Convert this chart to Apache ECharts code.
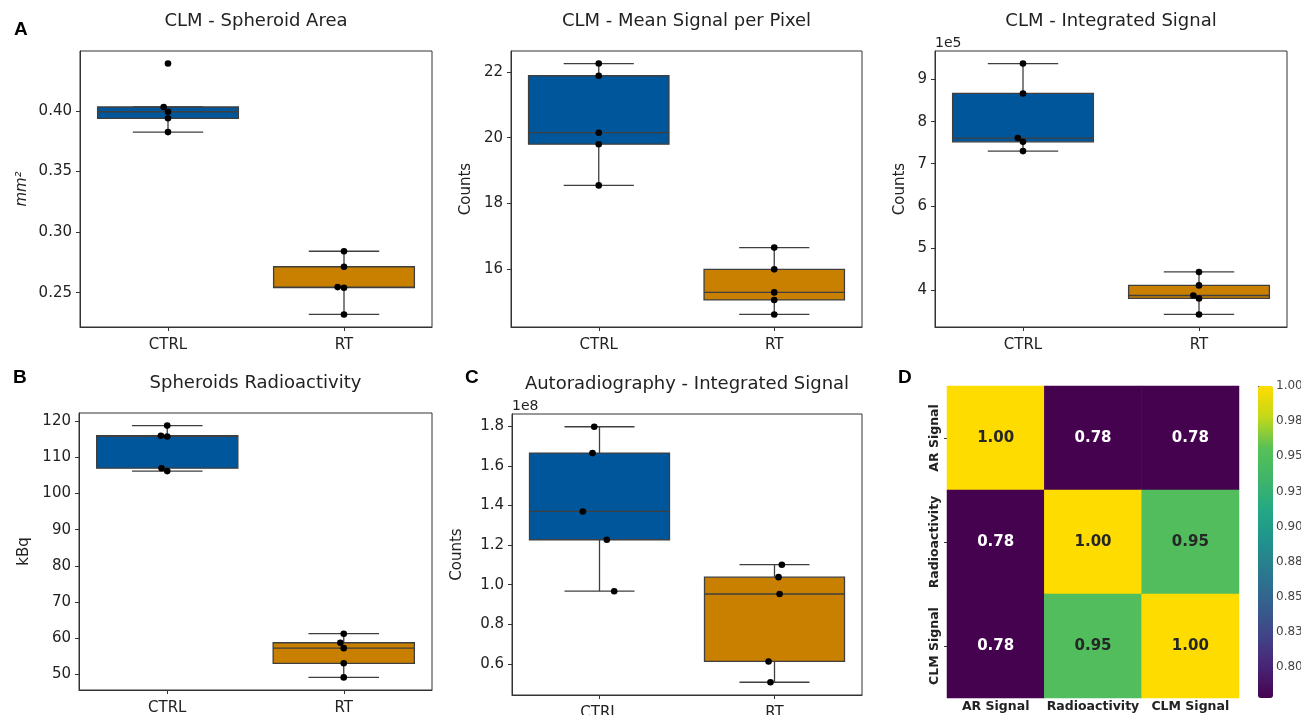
<!DOCTYPE html>
<html>
<head>
<meta charset="utf-8">
<script src="https://cdn.jsdelivr.net/npm/echarts@6/dist/echarts.min.js"></script>
<style>
html,body{margin:0;padding:0;background:#fff;}
#chart{width:1301px;height:715px;}
</style>
</head>
<body>
<div id="chart"></div>
<script>
// ---------------- DATA ----------------
const categories = ['CTRL', 'RT'];

// A: CLM - Spheroid Area (mm²)
const areaCTRL = [0.4392, 0.4033, 0.3994, 0.3940, 0.3826];
const areaRT   = [0.2842, 0.2714, 0.2546, 0.2541, 0.2320];
// A: CLM - Mean Signal per Pixel (Counts)
const meanCTRL = [22.25, 21.88, 20.15, 19.80, 18.55];
const meanRT   = [16.66, 16.00, 15.30, 15.07, 14.63];
// A: CLM - Integrated Signal (Counts)
const intCTRL = [9.38e5, 8.67e5, 7.61e5, 7.52e5, 7.30e5];
const intRT   = [4.43e5, 4.11e5, 3.87e5, 3.80e5, 3.42e5];
// B: Spheroids Radioactivity (kBq)
const radioCTRL = [118.8, 116.0, 115.8, 107.0, 106.2];
const radioRT   = [61.2, 58.7, 57.2, 53.0, 49.1];
// C: Autoradiography - Integrated Signal (Counts)
const arCTRL = [1.798e8, 1.665e8, 1.370e8, 1.227e8, 0.967e8];
const arRT   = [1.101e8, 1.038e8, 0.953e8, 0.612e8, 0.507e8];
// C: strip-plot jitter (fraction of category width)
const arJitterCTRL = [-0.030, -0.040, -0.095, 0.042, 0.084];
const arJitterRT   = [0.042, 0.023, 0.029, -0.034, -0.023];

// tick values
const areaTicks  = [0.25, 0.30, 0.35, 0.40];
const meanTicks  = [16, 18, 20, 22];
const intTicks   = [4e5, 5e5, 6e5, 7e5, 8e5, 9e5];
const radioTicks = [50, 60, 70, 80, 90, 100, 110, 120];
const arTicks    = [0.6e8, 0.8e8, 1.0e8, 1.2e8, 1.4e8, 1.6e8, 1.8e8];

// D: correlation heatmap
const corrLabels = ['AR Signal', 'Radioactivity', 'CLM Signal'];
const corrAR    = [1.00, 0.778, 0.778];
const corrRadio = [0.778, 1.00, 0.95];
const corrCLM   = [0.778, 0.95, 1.00];
const colorbarTicks = [0.800, 0.825, 0.850, 0.875, 0.900, 0.925, 0.950, 0.975, 1.000];
const colorbarTickLabels = ['0.80', '0.83', '0.85', '0.88', '0.90', '0.93', '0.95', '0.98', '1.00'];

// ---------------- STYLE / LAYOUT ----------------
const FONT = 'DejaVu Sans';
const TXT = '#222';
const EDGE = '#3f3f3f';
const BOX_COLORS = ['#00569a', '#c98001'];
const VIRIDIS = ['#45034f', '#482475', '#414487', '#355f8d', '#2a788e', '#21918c', '#22a884', '#3fb56a', '#57c058', '#c2d81a', '#ffdc00'];

const panels = [
  { title: 'CLM - Spheroid Area', yName: 'mm²', italic: true, series: [areaCTRL, areaRT], ticks: areaTicks,
    fmt: v => v.toFixed(2), grid: { left: 80, top: 51, width: 352, height: 276 }, nameX: 22, mode: 'swarm' },
  { title: 'CLM - Mean Signal per Pixel', yName: 'Counts', series: [meanCTRL, meanRT], ticks: meanTicks,
    fmt: v => String(Math.round(v)), grid: { left: 511, top: 51, width: 351, height: 276 }, nameX: 466, mode: 'swarm' },
  { title: 'CLM - Integrated Signal', yName: 'Counts', series: [intCTRL, intRT], ticks: intTicks,
    fmt: v => String(Math.round(v / 1e5)), grid: { left: 935, top: 51, width: 352, height: 276 }, nameX: 900, mode: 'swarm', offsetText: '1e5' },
  { title: 'Spheroids Radioactivity', yName: 'kBq', series: [radioCTRL, radioRT], ticks: radioTicks,
    fmt: v => String(Math.round(v)), grid: { left: 79, top: 413, width: 353, height: 277 }, nameX: 24, mode: 'swarm' },
  { title: 'Autoradiography - Integrated Signal', yName: 'Counts', series: [arCTRL, arRT], ticks: arTicks,
    fmt: v => (v / 1e8).toFixed(1), grid: { left: 512, top: 414, width: 350, height: 281 }, nameX: 457, mode: 'jitter',
    jitter: [arJitterCTRL, arJitterRT], offsetText: '1e8' }
];

const heatGrid = { left: 947, top: 386, width: 292, height: 312 };
const cbarGrid = { left: 1258, top: 386, width: 15, height: 312 };

// ---------------- HELPERS ----------------
function quantile(s, p) {
  const h = (s.length - 1) * p, lo = Math.floor(h), hi = Math.ceil(h);
  return s[lo] + (s[hi] - s[lo]) * (h - lo);
}
function boxStats(vals) {
  const s = [...vals].sort((a, b) => a - b);
  const q1 = quantile(s, 0.25), med = quantile(s, 0.5), q3 = quantile(s, 0.75);
  const iqr = q3 - q1;
  const wlo = s.find(v => v >= q1 - 1.5 * iqr);
  const whi = [...s].reverse().find(v => v <= q3 + 1.5 * iqr);
  return [wlo, q1, med, q3, whi];
}
function swarmOffsets(ys, d) {
  const order = ys.map((y, i) => i).sort((a, b) => ys[b] - ys[a]);
  const placed = [], off = new Array(ys.length).fill(0);
  for (const i of order) {
    const cands = [0];
    for (const p of placed) {
      const dy = ys[i] - p.y;
      if (Math.abs(dy) < d) { const dx = Math.sqrt(d * d - dy * dy); cands.push(p.x - dx, p.x + dx); }
    }
    cands.sort((a, b) => (Math.abs(a) - Math.abs(b)) || (a - b));
    let chosen = cands[0];
    for (const c of cands) {
      if (placed.every(p => Math.hypot(p.x - c, p.y - ys[i]) >= d - 1e-6)) { chosen = c; break; }
    }
    off[i] = chosen;
    placed.push({ x: chosen, y: ys[i] });
  }
  return off;
}

// ---------------- BUILD OPTION ----------------
const grids = [], xAxes = [], yAxes = [], series = [], graphics = [];
const GRID_BASE = { outerBoundsMode: 'none', containLabel: false };

panels.forEach((p, i) => {
  grids.push(Object.assign({ show: true, borderColor: '#333', borderWidth: 1, backgroundColor: 'transparent' }, GRID_BASE, p.grid));
  const all = [].concat(...p.series);
  const lo = Math.min(...all), hi = Math.max(...all), pad = (hi - lo) * 0.05;
  xAxes.push({
    type: 'category', gridIndex: i, data: categories,
    axisLine: { show: true, lineStyle: { color: '#333', width: 1 } },
    axisTick: { show: true, alignWithLabel: true, length: 4, lineStyle: { color: '#333' } },
    axisLabel: { fontSize: 15, color: TXT, fontFamily: FONT, margin: 11 },
    splitLine: { show: false }
  });
  yAxes.push({
    type: 'value', gridIndex: i, min: lo - pad, max: hi + pad,
    axisLine: { show: true, lineStyle: { color: '#333', width: 1 } },
    axisTick: { show: true, length: 4, customValues: p.ticks, lineStyle: { color: '#333' } },
    axisLabel: { customValues: p.ticks, formatter: p.fmt, fontSize: 15, color: TXT, fontFamily: FONT, margin: 8 },
    splitLine: { show: false }
  });

  // box + whiskers
  series.push({
    type: 'custom', xAxisIndex: i, yAxisIndex: i, silent: true, z: 2,
    data: p.series.map((vals, c) => [c].concat(boxStats(vals))),
    encode: { x: 0, y: [1, 2, 3, 4, 5] },
    renderItem: (params, api) => {
      const cat = api.value(0);
      const band = api.size([1, 0])[0];
      const w = band * 0.8, cw = w * 0.5;
      const x = api.coord([cat, api.value(3)])[0];
      const ylo = api.coord([cat, api.value(1)])[1];
      const yq1 = api.coord([cat, api.value(2)])[1];
      const ymed = api.coord([cat, api.value(3)])[1];
      const yq3 = api.coord([cat, api.value(4)])[1];
      const yhi = api.coord([cat, api.value(5)])[1];
      const ls = { stroke: EDGE, lineWidth: 1.3 };
      return {
        type: 'group', children: [
          { type: 'line', shape: { x1: x, y1: yq1, x2: x, y2: ylo }, style: ls },
          { type: 'line', shape: { x1: x, y1: yq3, x2: x, y2: yhi }, style: ls },
          { type: 'line', shape: { x1: x - cw / 2, y1: ylo, x2: x + cw / 2, y2: ylo }, style: ls },
          { type: 'line', shape: { x1: x - cw / 2, y1: yhi, x2: x + cw / 2, y2: yhi }, style: ls },
          { type: 'rect', shape: { x: x - w / 2, y: yq3, width: w, height: yq1 - yq3 },
            style: { fill: BOX_COLORS[params.dataIndex], stroke: EDGE, lineWidth: 1.3 } },
          { type: 'line', shape: { x1: x - w / 2, y1: ymed, x2: x + w / 2, y2: ymed }, style: ls }
        ]
      };
    }
  });

  // points
  const pts = [];
  p.series.forEach((vals, c) => vals.forEach((v, k) => pts.push([c, v, k])));
  series.push({
    type: 'custom', xAxisIndex: i, yAxisIndex: i, silent: true, z: 3,
    data: pts, encode: { x: 0, y: 1 },
    renderItem: (params, api) => {
      const cat = api.value(0), v = api.value(1), k = api.value(2);
      const c = api.coord([cat, v]);
      let off = 0;
      if (p.mode === 'jitter') {
        off = p.jitter[cat][k] * api.size([1, 0])[0];
      } else {
        const ys = p.series[cat].map(vv => api.coord([cat, vv])[1]);
        off = swarmOffsets(ys, 6.4)[k];
      }
      return { type: 'circle', shape: { cx: c[0] + off, cy: c[1], r: 3.3 }, style: { fill: '#000' } };
    }
  });

  // title
  graphics.push({ type: 'text', x: p.grid.left + p.grid.width / 2, y: p.grid.top - 30,
    style: { text: p.title, font: '18px "DejaVu Sans"', fill: TXT, textAlign: 'center', textVerticalAlign: 'middle' } });
  // y name
  graphics.push({ type: 'text', x: p.nameX, y: p.grid.top + p.grid.height / 2, rotation: Math.PI / 2,
    style: { text: p.yName, font: (p.italic ? 'italic ' : '') + '15px "DejaVu Sans"', fill: TXT, textAlign: 'center', textVerticalAlign: 'middle' } });
  if (p.offsetText) {
    graphics.push({ type: 'text', x: p.grid.left, y: p.grid.top - 8,
      style: { text: p.offsetText, font: '14px "DejaVu Sans"', fill: TXT, textAlign: 'left', textVerticalAlign: 'middle' } });
  }
});

// ---- heatmap ----
const HI = panels.length;
grids.push(Object.assign({ show: false }, GRID_BASE, heatGrid));
xAxes.push({
  type: 'category', gridIndex: HI, data: corrLabels, position: 'bottom',
  axisLine: { show: false }, axisTick: { show: false }, splitLine: { show: false },
  axisLabel: { fontSize: 12.5, fontWeight: 'bold', color: TXT, fontFamily: FONT, margin: 2, interval: 0 }
});
yAxes.push({
  type: 'category', gridIndex: HI, data: corrLabels, inverse: true,
  axisLine: { show: false }, axisTick: { show: true, length: 3, alignWithLabel: true, lineStyle: { color: '#333' } },
  splitLine: { show: false },
  axisLabel: { fontSize: 12.5, fontWeight: 'bold', color: TXT, fontFamily: FONT, margin: 6, rotate: 90, interval: 0 }
});
const corrRows = [corrAR, corrRadio, corrCLM];
const heatData = [];
corrRows.forEach((row, r) => row.forEach((v, c) => {
  heatData.push({ value: [c, r, v], label: { color: v > 0.9 ? '#262626' : '#ffffff' } });
}));
const allCorr = [].concat(...corrRows);
const cMin = Math.min(...allCorr), cMax = Math.max(...allCorr);
const heatSeriesIndex = series.length;
series.push({
  type: 'heatmap', xAxisIndex: HI, yAxisIndex: HI, data: heatData, silent: true,
  label: { show: true, formatter: prm => prm.value[2].toFixed(2), fontSize: 15, fontWeight: 'bold', fontFamily: FONT },
  itemStyle: { borderWidth: 0 }
});

// ---- colorbar axis ----
const CI = HI + 1;
grids.push(Object.assign({ show: false }, GRID_BASE, cbarGrid));
xAxes.push({ type: 'value', gridIndex: CI, show: false, min: 0, max: 1 });
yAxes.push({
  type: 'value', gridIndex: CI, min: cMin, max: cMax, position: 'right',
  axisLine: { show: false }, splitLine: { show: false },
  axisTick: { show: true, length: 3, customValues: colorbarTicks, lineStyle: { color: '#444' } },
  axisLabel: {
    customValues: colorbarTicks, fontSize: 12, color: '#444', fontFamily: FONT, margin: 3,
    formatter: v => {
      let best = 0;
      colorbarTicks.forEach((t, j) => { if (Math.abs(t - v) < Math.abs(colorbarTicks[best] - v)) best = j; });
      return colorbarTickLabels[best];
    }
  }
});

// panel letters
[['A', 14, 30], ['B', 13, 378], ['C', 465, 378], ['D', 898, 378]].forEach(([t, x, y]) => {
  graphics.push({ type: 'text', x: x, y: y,
    style: { text: t, font: 'bold 19px "Liberation Sans", Arial, sans-serif', fill: '#000', textAlign: 'left', textVerticalAlign: 'middle' } });
});

const option = {
  backgroundColor: '#ffffff',
  animation: false,
  grid: grids,
  xAxis: xAxes,
  yAxis: yAxes,
  visualMap: {
    type: 'continuous', seriesIndex: heatSeriesIndex, min: cMin, max: cMax,
    left: cbarGrid.left, top: cbarGrid.top, itemWidth: cbarGrid.width, itemHeight: cbarGrid.height,
    orient: 'vertical', calculable: false, hoverLink: false, padding: 0, text: null, showLabel: false,
    inRange: { color: VIRIDIS }
  },
  series: series,
  graphic: graphics
};

const chart = echarts.init(document.getElementById('chart'), null, { renderer: 'canvas' });
chart.setOption(option);
</script>
</body>
</html>
